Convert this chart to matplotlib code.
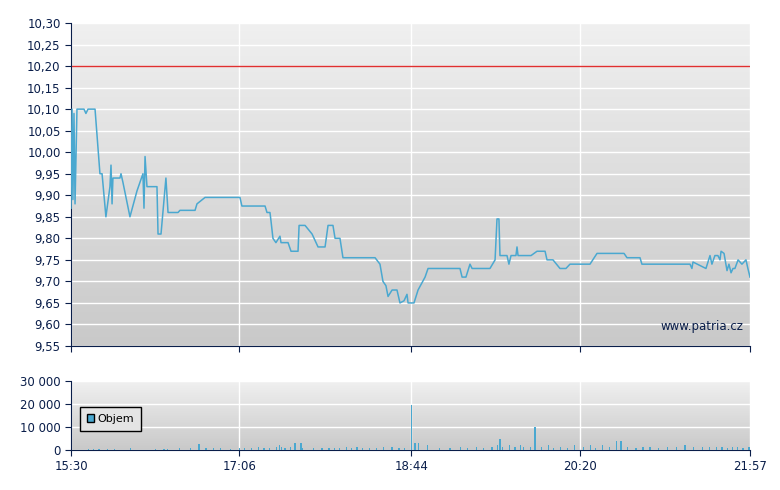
import matplotlib
matplotlib.use("Agg")
import matplotlib.pyplot as plt
import numpy as np

# price series: minutes after 15:30, price
t_min = [0,0.6,1.1,1.7,2.3,3.4,7.4,8.5,9.7,13.7,16.5,17.7,19.9,22.2,22.8,23.4,23.9,27.9,28.5,29.6,
         33.6,37.6,39.3,41,41.6,42.2,43.3,49,49.6,51.3,54.1,55.3,61,62.1,70.7,71.8,76.4,96.3,97.4,110.6,
         111.7,113.4,114,115.1,116.8,119.1,119.7,123.7,125.4,129.4,130,133.4,137.4,140.8,144.8,146.5,149.3,150.5,153.3,155,
         173.3,176.1,177.8,179.5,180.7,183,185.8,187.5,189.8,191.5,192.1,195.5,197.8,201.8,203.5,221.7,222.9,225.1,227.4,228.6,
         238.8,241.7,242.8,243.9,244.5,248.5,249.6,250.8,253.6,254.2,254.8,262.2,265.6,270.2,271.3,274.7,278.7,282.1,284.4,295.8,
         299.8,315.2,316.9,324.3,325.4,352.8,353.9,354.5,361.9,364.2,365.3,367,368.7,369.9,370.5,372.2,373.9,375,376.2,377.3,
         378.4,380.2,382.4,384.7,385.8,387]
price = [9.87,10.10,9.89,10.09,9.88,10.10,10.10,10.09,10.10,10.10,9.95,9.95,9.85,9.92,9.97,9.88,9.94,9.94,9.95,9.93,
         9.85,9.91,9.93,9.95,9.87,9.99,9.92,9.92,9.81,9.81,9.94,9.86,9.86,9.865,9.865,9.88,9.895,9.895,9.875,9.875,
         9.86,9.86,9.84,9.80,9.79,9.805,9.79,9.79,9.77,9.77,9.83,9.83,9.81,9.78,9.78,9.83,9.83,9.80,9.80,9.755,
         9.755,9.74,9.70,9.69,9.665,9.68,9.68,9.65,9.655,9.67,9.65,9.65,9.68,9.71,9.73,9.73,9.71,9.71,9.74,9.73,
         9.73,9.75,9.845,9.845,9.76,9.76,9.74,9.76,9.76,9.78,9.76,9.76,9.77,9.77,9.75,9.75,9.73,9.73,9.74,9.74,
         9.765,9.765,9.755,9.755,9.74,9.74,9.73,9.745,9.73,9.76,9.74,9.76,9.76,9.75,9.77,9.765,9.725,9.74,9.72,9.73,
         9.73,9.75,9.74,9.75,9.73,9.71]
ref_price = 10.20

vol_t = [10,13,16,21,25,34,48,53,55,62,68,73,77,81,85,91,96,99,103,107,110,113,117,119,120,122,125,127.7,131.1,132,
         138,143,147,150,153,157,160,163,166,170,174,178,183,187,190,194,196,198,203,210,216,222,226,231,235,240,243,244.5,246,250,
         253,256,258,262,264.5,268,272,275,279,283,287,292,296,299,303,307,311,313.5,317,322,326,330,335,340,345,350,355,360,
         364,368,371,374,377,380,383,386,387]
vol = [500,400,600,300,500,900,400,600,500,700,900,2400,700,900,800,600,1000,800,900,1200,900,1000,1200,2200,1100,900,1300,3100,3200,900,
       700,800,900,1000,800,1100,900,1200,800,1000,900,1300,1100,800,900,19500,3100,3000,2100,900,800,1100,900,1300,1000,1200,2300,5000,1200,2200,
       1300,2000,1100,1400,10000,1100,2200,900,1300,800,2200,1100,2200,900,2300,1100,4000,4000,1200,900,1100,1300,1000,1200,1100,2300,1500,1200,
       1300,1100,1200,900,1300,1200,1000,1400,1500]

xticks = [0, 96, 194, 290, 387]
xlabels = ["15:30", "17:06", "18:44", "20:20", "21:57"]
yticks_p = [9.55,9.60,9.65,9.70,9.75,9.80,9.85,9.90,9.95,10.00,10.05,10.10,10.15,10.20,10.25,10.30]
yticks_v = [0, 10000, 20000, 30000]

navy = "#0a1e4a"
W, H = 780, 490
fig = plt.figure(figsize=(7.8, 4.9), dpi=100)
ax1 = fig.add_axes([71/W, 1-346/H, (750-71)/W, (346-23)/H])
ax2 = fig.add_axes([71/W, 1-450/H, (750-71)/W, (450-381)/H])

def bg(ax, top, bot):
    grad = np.linspace(0, 1, 256).reshape(-1, 1)
    ax.imshow(grad, aspect="auto", extent=[0, 1, 0, 1], transform=ax.transAxes,
              cmap=matplotlib.colors.LinearSegmentedColormap.from_list("g", [top, bot]), zorder=0)

for ax in (ax1, ax2):
    bg(ax, "#f0f0f0", "#c9c9c9")
    ax.set_xlim(0, 387)
    ax.set_xticks(xticks)
    ax.grid(True, color="white", lw=1, zorder=1)
    for s in ("top", "right"):
        ax.spines[s].set_visible(False)
    for s in ("left", "bottom"):
        ax.spines[s].set_color(navy)
    ax.tick_params(colors=navy, labelcolor=navy, labelsize=8.5, length=4)

ax1.plot(t_min, price, color="#4aa8d0", lw=1.1, zorder=3)
ax1.axhline(ref_price, color="#e03030", lw=1, zorder=2)
ax1.set_ylim(9.55, 10.30)
ax1.set_yticks(yticks_p)
ax1.set_yticklabels([f"{v:.2f}".replace(".", ",") for v in yticks_p])
ax1.set_xticklabels([])
ax1.text(0.99, 0.06, "www.patria.cz", transform=ax1.transAxes, ha="right", va="center",
         fontsize=8.5, color="#0a1e4a", zorder=4)

ax2.bar(vol_t, vol, width=0.7, color="#4aa8d0", zorder=3, label="Objem")
ax2.set_ylim(0, 30000)
ax2.set_yticks(yticks_v)
ax2.set_yticklabels(["0", "10 000", "20 000", "30 000"])
ax2.set_xticklabels(xlabels)
leg = ax2.legend(loc="center left", bbox_to_anchor=(0.005, 0.45), fontsize=8, frameon=True,
                 fancybox=False, handlelength=0.7, handletextpad=0.3, borderpad=0.6)
leg.get_frame().set_edgecolor("black")
leg.get_frame().set_facecolor("#e4e4e4")
leg.get_frame().set_alpha(1)
for h in leg.legend_handles:
    h.set_edgecolor("black")

fig.savefig("out.png", dpi=100)
